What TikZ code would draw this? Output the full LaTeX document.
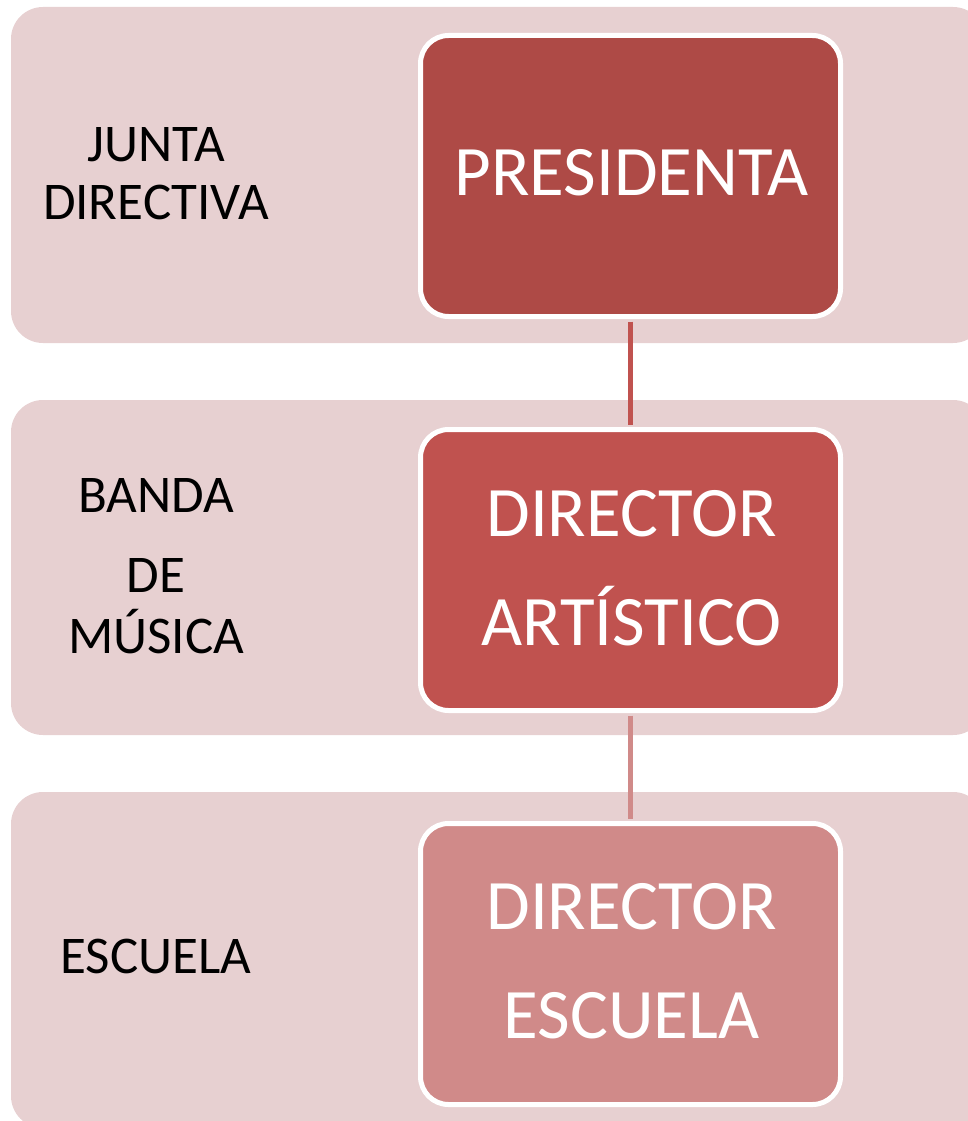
\documentclass[tikz,border=0pt]{standalone}
\usepackage{fontspec}
\setmainfont{Carlito}
\definecolor{bandcol}{HTML}{E7D0D1}
\definecolor{cone}{HTML}{AE4A46}
\definecolor{ctwo}{HTML}{C0524F}
\definecolor{cthree}{HTML}{D08A89}
\begin{document}
\begin{tikzpicture}[x=1pt,y=-1pt,
  bandbox/.style={fill=bandcol, rounded corners=32pt},
  orgbox/.style={draw=white, line width=5pt, rounded corners=28pt, minimum width=420pt, minimum height=281pt, inner sep=0pt},
  boxtext/.style={text=white, font=\fontsize{71}{109}\selectfont, align=center, inner sep=0pt},
  sidetext/.style={text=black, font=\fontsize{53}{58}\selectfont, align=center, inner sep=0pt},
  link/.style={line width=5pt, shorten <=2.5pt, shorten >=2.5pt}
]
\useasboundingbox (0,0) rectangle (968,1121);
\clip (0,0) rectangle (968,1121);
% bands
\fill[bandbox] (11,7) rectangle (985,343);
\fill[bandbox] (11,400) rectangle (985,735);
\fill[bandbox] (11,792) rectangle (985,1128);
% boxes
\node[orgbox, fill=cone] (pres) at (630.5,176) {};
\node[orgbox, fill=ctwo] (dir) at (630.5,570) {};
\node[orgbox, fill=cthree] (esc) at (630.5,964) {};
% connectors
\draw[link, draw=ctwo] (pres.south) -- (dir.north);
\draw[link, draw=cthree] (dir.south) -- (esc.north);
% box texts
\node[boxtext] (tpres) at (631.5,172.5) {PRESIDENTA};
\node[boxtext] (tdir) at (631.5,568) {DIRECTOR\\ARTÍSTICO};
\node[boxtext] (tesc) at (631.5,961.5) {DIRECTOR\\ESCUELA};
% side texts
\node[sidetext] (sjunta) at (156,174) {JUNTA\\DIRECTIVA};
\node[sidetext, font=\fontsize{53}{61}\selectfont] (sbanda) at (156,566) {BANDA\\[19pt]DE\\MÚSICA};
\node[sidetext] (sesc) at (156,956) {ESCUELA};
\end{tikzpicture}
\end{document}
